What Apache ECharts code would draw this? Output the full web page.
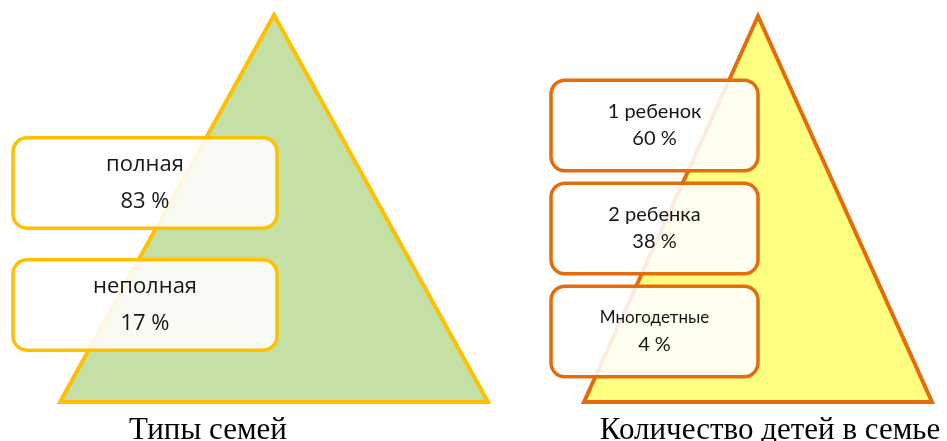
<!DOCTYPE html>
<html lang="ru">
<head>
<meta charset="UTF-8">
<title>Типы семей</title>
<script src="https://cdn.jsdelivr.net/npm/echarts@6/dist/echarts.min.js"></script>
<style>
  html, body { margin: 0; padding: 0; background: #fff; }
  #chart { width: 947px; height: 441px; }
</style>
</head>
<body>
<div id="chart"></div>
<script>
// data
const familyTypes = ['полная', 'неполная'];
const familyShares = [83, 17];
const childGroups = ['1 ребенок', '2 ребенка', 'Многодетные'];
const childShares = [60, 38, 4];
const titles = ['Типы семей', 'Количество детей в семье'];

const chart = echarts.init(document.getElementById('chart'));

// triangle = whole (100 %), drawn in its own grid
function triangle(total, fill, stroke) {
  return function (params, api) {
    const a = api.coord([0, 0]);
    const b = api.coord([1, 0]);
    const c = api.coord([0.5, total]);
    return {
      type: 'polygon',
      shape: { points: [a, b, c] },
      style: { fill: fill, stroke: stroke, lineWidth: 4, lineJoin: 'miter' }
    };
  };
}

function boxes(names, stroke, font, size, lineH, boxH) {
  return function (params, api) {
    const idx = api.value(0);
    const val = api.value(1);
    const band = api.size([0, 1])[1];
    const x0 = api.coord([0, idx])[0];
    const x1 = api.coord([1, idx])[0];
    const cy = api.coord([0, idx])[1];
    const h = band * boxH;
    const name = names[idx];
    const fs = name.length > 10 ? size - 3 : size;
    return {
      type: 'group',
      children: [{
        type: 'rect',
        shape: { x: x0, y: cy - h / 2, width: x1 - x0, height: h, r: 14 },
        style: { fill: 'rgba(255,255,255,0.87)', stroke: stroke, lineWidth: 3.5 }
      }, {
        type: 'text',
        style: {
          text: '{n|' + name + '}\n{v|' + val + ' %}',
          x: (x0 + x1) / 2, y: cy,
          align: 'center', verticalAlign: 'middle',
          fill: '#161616', fontFamily: font,
          rich: {
            n: { fontSize: fs, lineHeight: lineH, fontFamily: font, fill: '#161616' },
            v: { fontSize: size, lineHeight: lineH, fontFamily: font, fill: '#161616' }
          }
        }
      }]
    };
  };
}

const sum = a => a.reduce((s, v) => s + v, 0);
const titleStyle = { fontFamily: 'Liberation Serif', fontSize: 31, fontWeight: 'normal', color: '#000' };

chart.setOption({
  animation: false,
  title: [
    { text: titles[0], left: 203, top: 410, textAlign: 'center', textStyle: titleStyle },
    { text: titles[1], left: 765, top: 410, textAlign: 'center', textStyle: titleStyle }
  ],
  grid: [
    { left: 60, top: 15, width: 428, height: 387 },
    { left: 13, top: 122, width: 264, height: 244 },
    { left: 584, top: 16, width: 348, height: 386 },
    { left: 551, top: 74, width: 207, height: 309 }
  ],
  xAxis: [0, 1, 2, 3].map(i => ({ type: 'value', gridIndex: i, min: 0, max: 1, show: false })),
  yAxis: [
    { type: 'value', gridIndex: 0, min: 0, max: sum(familyShares), show: false },
    { type: 'category', gridIndex: 1, data: familyTypes, inverse: true, show: false },
    { type: 'value', gridIndex: 2, min: 0, max: sum(childShares), show: false },
    { type: 'category', gridIndex: 3, data: childGroups, inverse: true, show: false }
  ],
  series: [
    { type: 'custom', xAxisIndex: 0, yAxisIndex: 0, z: 1, silent: true,
      renderItem: triangle(sum(familyShares), '#C5E0A5', '#FFC000'), data: [[0]] },
    { type: 'custom', xAxisIndex: 1, yAxisIndex: 1, z: 2, silent: true,
      renderItem: boxes(familyTypes, '#FFC000', 'Open Sans', 22, 37, 0.74),
      data: familyShares.map((v, i) => [i, v]) },
    { type: 'custom', xAxisIndex: 2, yAxisIndex: 2, z: 1, silent: true,
      renderItem: triangle(sum(childShares), '#FFFF80', '#E46C0A'), data: [[0]] },
    { type: 'custom', xAxisIndex: 3, yAxisIndex: 3, z: 2, silent: true,
      renderItem: boxes(childGroups, '#E46C0A', 'Lato', 20, 27, 0.88),
      data: childShares.map((v, i) => [i, v]) }
  ]
});
</script>
</body>
</html>
